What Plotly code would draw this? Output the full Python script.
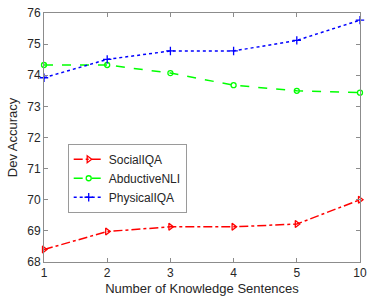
import plotly.graph_objects as go

knowledge = ["1", "2", "3", "4", "5", "10"]
social_iqa = [68.40, 68.98, 69.13, 69.13, 69.22, 70.00]
abductive_nli = [74.33, 74.33, 74.07, 73.68, 73.50, 73.44]
physical_iqa = [73.92, 74.51, 74.78, 74.78, 75.12, 75.77]
y_ticks = [68, 69, 70, 71, 72, 73, 74, 75, 76]

fig = go.Figure()
fig.add_trace(go.Scatter(
    x=knowledge, y=social_iqa, name="SocialIQA", mode="lines+markers",
    line=dict(color="#ff0000", dash="dashdot", width=1.5),
    marker=dict(symbol="triangle-right-open", size=6, color="#ff0000", line=dict(width=1.3)),
    cliponaxis=False))
fig.add_trace(go.Scatter(
    x=knowledge, y=abductive_nli, name="AbductiveNLI", mode="lines+markers",
    line=dict(color="#00ff00", dash="dash", width=1.5),
    marker=dict(symbol="circle-open", size=5, color="#00ff00", line=dict(width=1.3)),
    cliponaxis=False))
fig.add_trace(go.Scatter(
    x=knowledge, y=physical_iqa, name="PhysicalIQA", mode="lines+markers",
    line=dict(color="#0000ff", dash="dot", width=1.5),
    marker=dict(symbol="cross-thin-open", size=6, color="#0000ff", line=dict(width=1.3, color="#0000ff")),
    cliponaxis=False))

axis_common = dict(
    showline=True, linecolor="#8c8c8c", linewidth=1, mirror="ticks",
    ticks="inside", ticklen=4, tickcolor="#8c8c8c", showgrid=False, zeroline=False,
    tickfont=dict(size=12, color="#262626"),
)
fig.update_xaxes(
    type="category", range=[0, 5], categoryorder="array", categoryarray=knowledge,
    title=dict(text="Number of Knowledge Sentences", font=dict(size=13, color="#262626"), standoff=4),
    **axis_common)
fig.update_yaxes(
    range=[68, 76], tickvals=y_ticks,
    title=dict(text="Dev Accuracy", font=dict(size=13, color="#262626"), standoff=6),
    **axis_common)

fig.update_layout(
    width=373, height=300,
    margin=dict(l=44, r=6, t=11, b=34),
    paper_bgcolor="white", plot_bgcolor="white",
    font=dict(family="Liberation Sans, Arial, sans-serif", color="#262626"),
    legend=dict(x=0.075, y=0.475, xanchor="left", yanchor="top",
                bgcolor="white", bordercolor="#9a9a9a", borderwidth=1,
                font=dict(size=12), tracegroupgap=0, itemwidth=30),
    showlegend=True,
)
fig.write_html("out.html", config={"displayModeBar": False},
               post_script="document.body.style.margin='0';")
